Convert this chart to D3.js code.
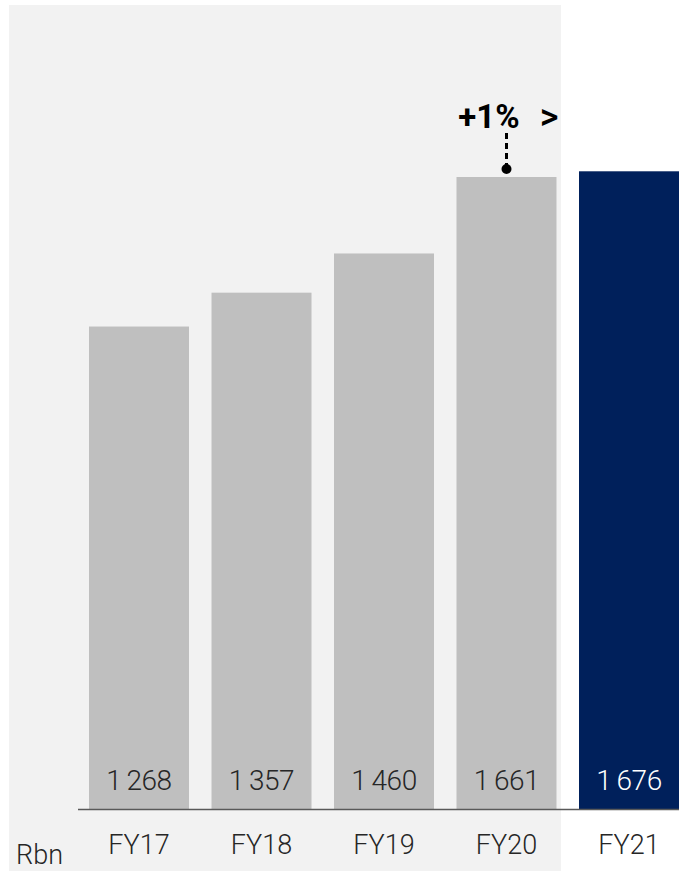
<html>
<head>
<script src="https://d3js.org/d3.v7.min.js"></script>
<style>
  body { margin: 0; background: white; }
  text { font-family: Roboto, "Open Sans", sans-serif; }
</style>
</head>
<body>
<svg width="679" height="871"></svg>
<script>
  var years = ["FY17", "FY18", "FY19", "FY20", "FY21"];
  var values = [1268, 1357, 1460, 1661, 1676];
  var growthLabel = "+1%";
  var unitLabel = "Rbn";

  var svg = d3.select("svg");
  var baseY = 809;

  var xs = d3.scaleBand().domain(years).range([89, 679]).paddingInner(0.1837).paddingOuter(0);
  var ys = d3.scaleLinear().domain([0, 1661]).range([baseY, 177]);

  // shaded panel behind historical years
  svg.append("rect")
    .attr("x", 9).attr("y", 5)
    .attr("width", 552).attr("height", 866)
    .attr("fill", "#f2f2f2");

  svg.selectAll(".bar").data(values).enter()
    .append("rect")
    .attr("class", "bar")
    .attr("x", function(d, i) { return xs(years[i]); })
    .attr("y", function(d) { return ys(d); })
    .attr("width", xs.bandwidth())
    .attr("height", function(d) { return baseY - ys(d); })
    .attr("fill", function(d, i) { return i == years.length - 1 ? "#00205b" : "#bfbfbf"; });

  var fmt = function(v) { return d3.format(",")(v).replace(",", "\u2009"); };

  svg.selectAll(".val").data(values).enter()
    .append("text")
    .attr("x", function(d, i) { return xs(years[i]) + xs.bandwidth() / 2; })
    .attr("y", 790)
    .attr("text-anchor", "middle")
    .attr("font-size", 28)
    .attr("font-weight", 300)
    .attr("letter-spacing", -0.5)
    .attr("fill", function(d, i) { return i == years.length - 1 ? "#ffffff" : "#262626"; })
    .text(fmt);

  // baseline
  svg.append("line")
    .attr("x1", 78).attr("x2", 679)
    .attr("y1", baseY + 0.5).attr("y2", baseY + 0.5)
    .attr("stroke", "#595959").attr("stroke-width", 1.5);

  svg.append("g").selectAll("text").data(years).enter()
    .append("text")
    .attr("x", function(d) { return xs(d) + xs.bandwidth() / 2; })
    .attr("y", 854)
    .attr("text-anchor", "middle")
    .attr("font-size", 27)
    .attr("font-weight", 300)
    .attr("fill", "#262626")
    .text(function(d) { return d; });

  svg.append("text")
    .attr("x", 16).attr("y", 864)
    .attr("font-size", 27).attr("font-weight", 300)
    .attr("fill", "#262626")
    .text(unitLabel);

  // growth annotation
  var ax = xs("FY20") + xs.bandwidth() / 2;
  svg.append("line")
    .attr("x1", ax).attr("x2", ax)
    .attr("y1", 133).attr("y2", 166)
    .attr("stroke", "#000").attr("stroke-width", 3)
    .attr("stroke-dasharray", "6,4");
  svg.append("circle")
    .attr("cx", ax).attr("cy", 169).attr("r", 5).attr("fill", "#000");
  svg.append("text")
    .attr("x", 489).attr("y", 128)
    .attr("text-anchor", "middle")
    .attr("font-size", 33).attr("font-weight", 700)
    .attr("fill", "#000")
    .text(growthLabel);
  svg.append("text")
    .attr("x", 549).attr("y", 129)
    .attr("text-anchor", "middle")
    .attr("font-size", 36).attr("font-weight", 500)
    .attr("fill", "#000")
    .text(">");
</script>
</body>
</html>
